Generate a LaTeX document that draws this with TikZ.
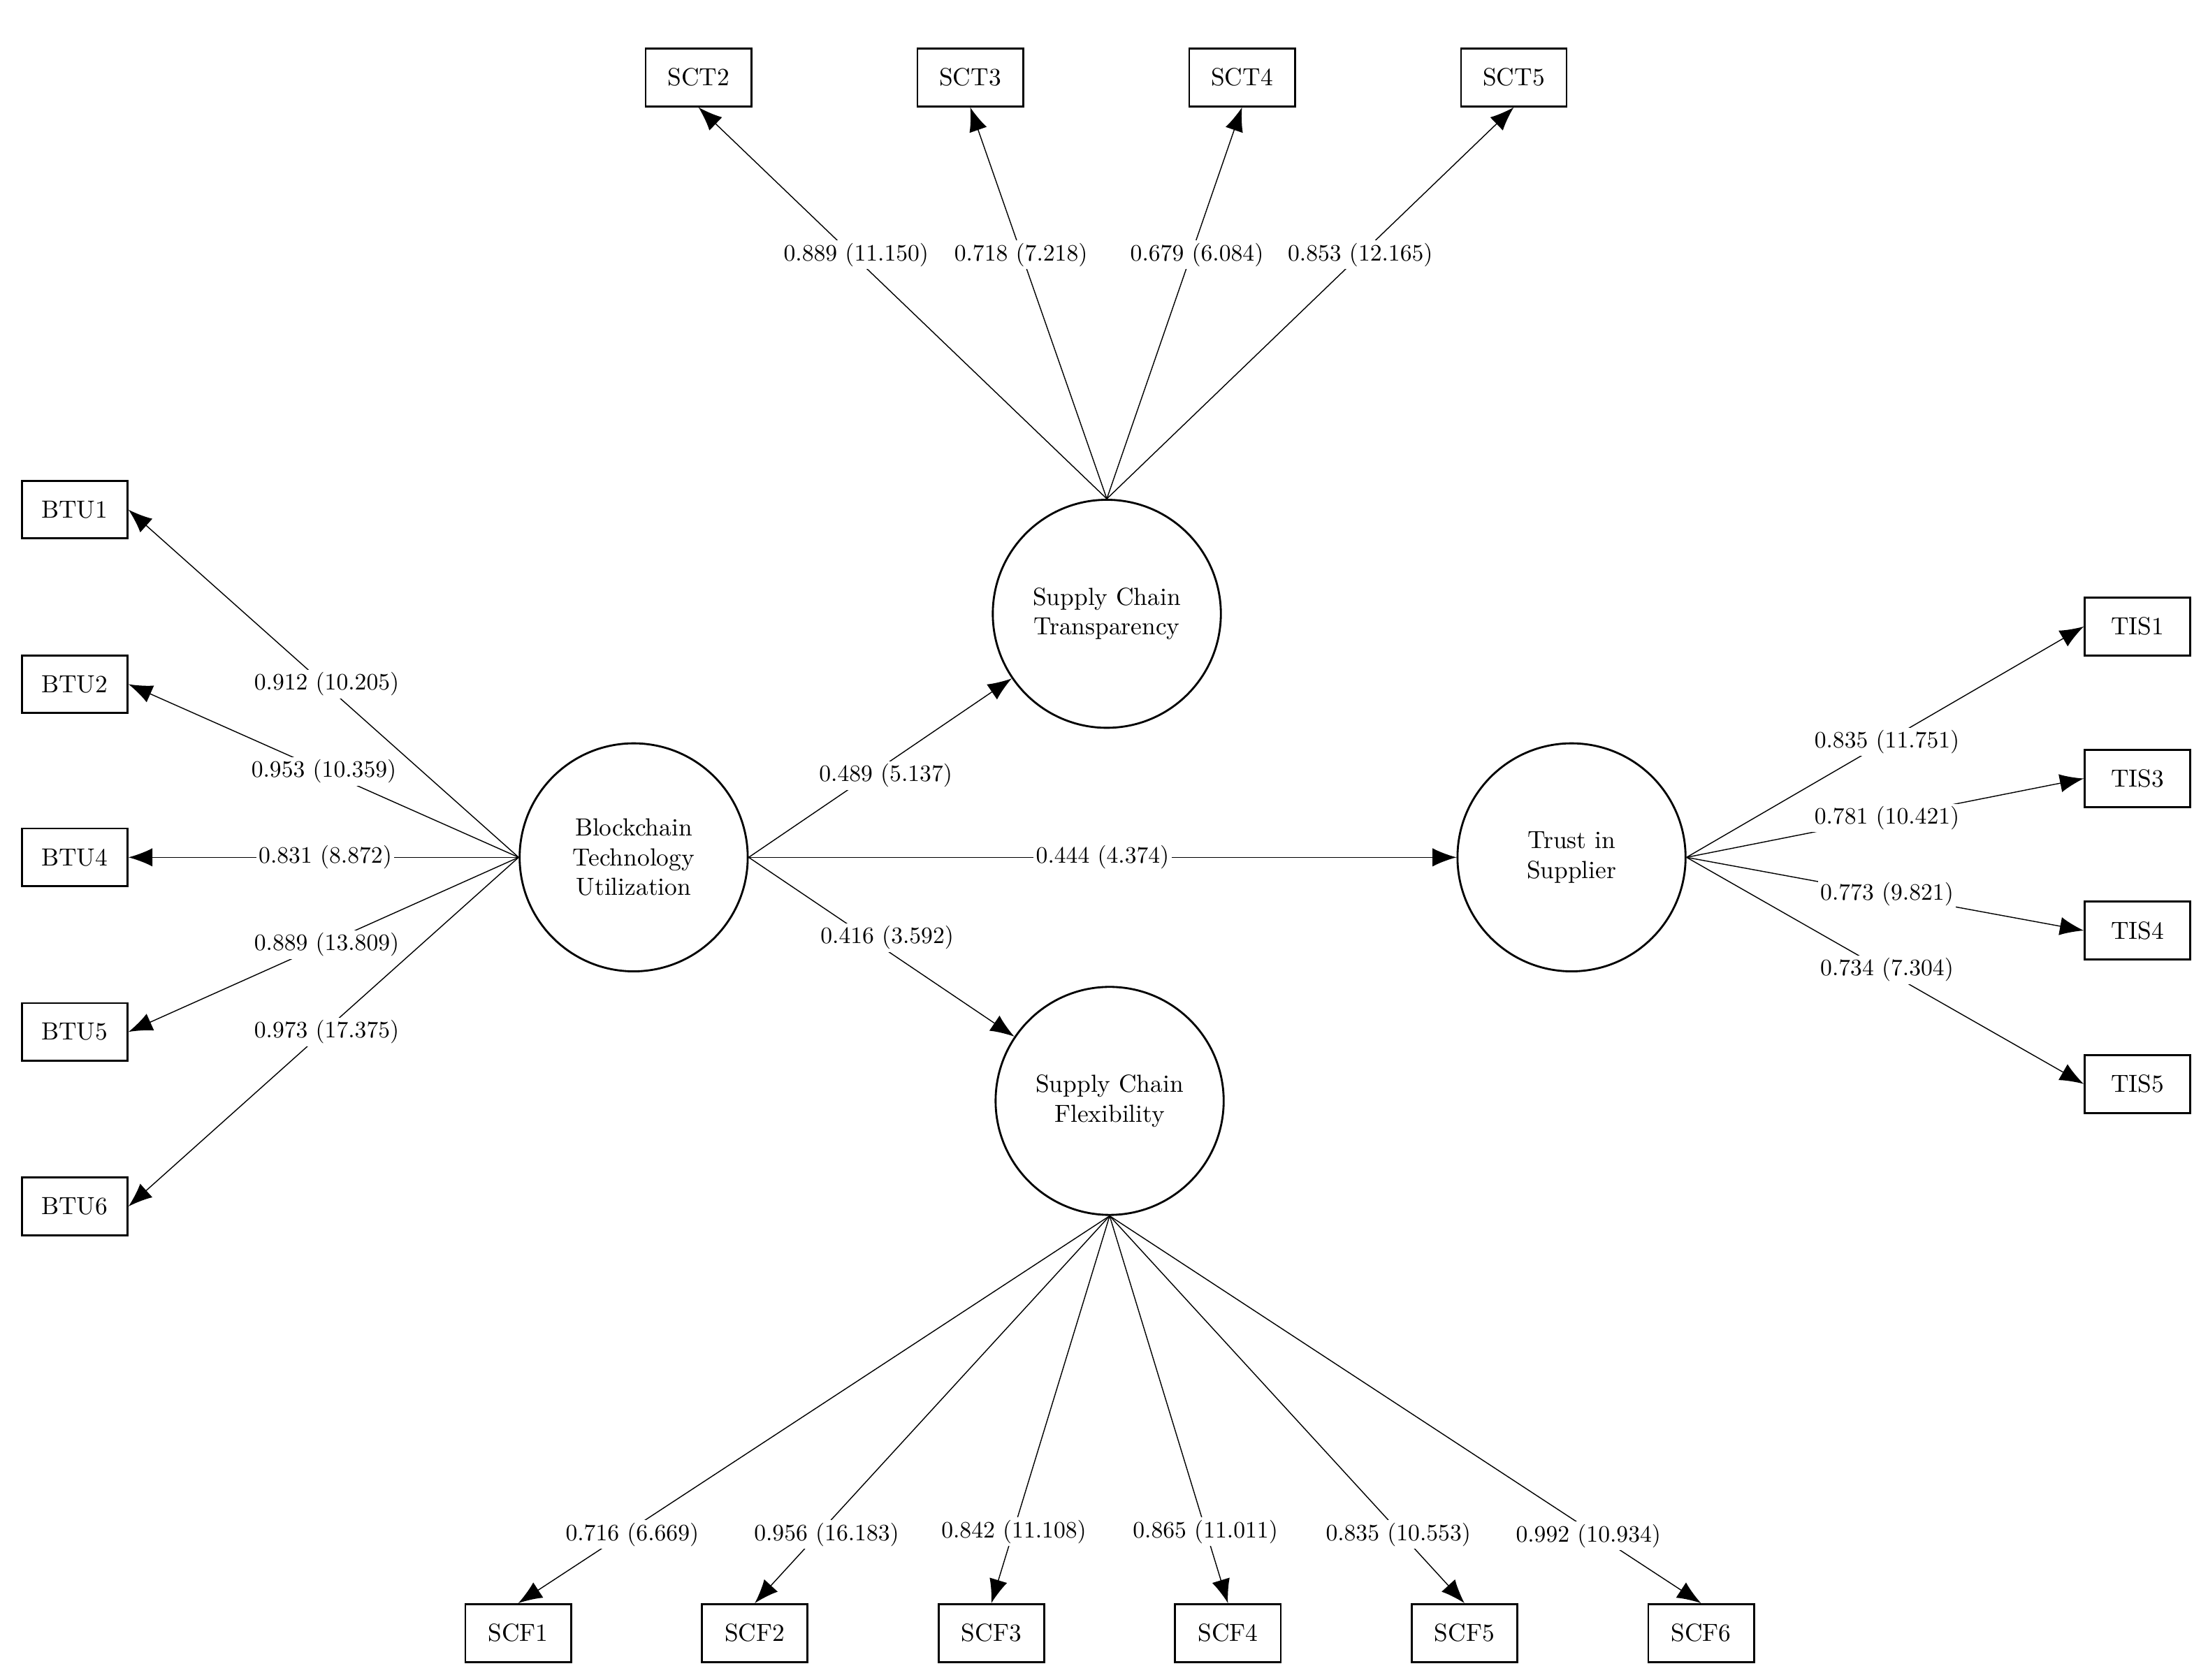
\documentclass[tikz,border=0pt]{standalone}
\usetikzlibrary{arrows.meta}
\begin{document}
\begin{tikzpicture}[x=0.02cm,y=-0.02cm,
 ind/.style={draw,thick,minimum width=1.5cm,minimum height=0.82cm,inner sep=0pt,font=\fontsize{10}{12}\selectfont},
 lat/.style={draw,thick,circle,minimum size=3.24cm,inner sep=0pt,align=center,font=\fontsize{10}{12}\selectfont},
 ar/.style={-{Latex[length=0.34cm,width=0.26cm]},thin},
 lb/.style={fill=white,inner sep=1pt,font=\fontsize{9.5}{11}\selectfont}]
\useasboundingbox (0,0) rectangle (1568,1193);
\node[lat] (btu) at (450,609) {Blockchain\\Technology\\Utilization};
\node[lat] (sct) at (786,436) {Supply Chain\\Transparency};
\node[lat] (tis) at (1116,609) {Trust in\\Supplier};
\node[lat] (scf) at (788,782) {Supply Chain\\Flexibility};
\foreach \n/\x in {2/496,3/689,4/882,5/1075} \node[ind] (sct\n) at (\x,55) {SCT\n};
\foreach \n/\y in {1/362,2/486,4/609,5/733,6/857} \node[ind] (btu\n) at (53,\y) {BTU\n};
\foreach \n/\y in {1/445,3/553,4/661,5/770} \node[ind] (tis\n) at (1518,\y) {TIS\n};
\foreach \n/\x in {1/368,2/536,3/704,4/872,5/1040,6/1208} \node[ind] (scf\n) at (\x,1160) {SCF\n};
% loadings
\foreach \n in {2,3,4,5} \draw[ar] (sct.north) -- (sct\n.south);
\foreach \n in {1,2,4,5,6} \draw[ar] (btu.west) -- (btu\n.east);
\foreach \n in {1,3,4,5} \draw[ar] (tis.east) -- (tis\n.west);
\foreach \n in {1,2,3,4,5,6} \draw[ar] (scf.south) -- (scf\n.north);
\draw[ar] (btu.east) -- (sct);
\draw[ar] (btu.east) -- (tis);
\draw[ar] (btu.east) -- (scf);
% labels
\node[lb] at (608,181) {0.889 (11.150)};
\node[lb] at (725,181) {0.718 (7.218)};
\node[lb] at (850,181) {0.679 (6.084)};
\node[lb] at (966,181) {0.853 (12.165)};
\node[lb] at (232,486) {0.912 (10.205)};
\node[lb] at (230,548) {0.953 (10.359)};
\node[lb] at (231,609) {0.831 (8.872)};
\node[lb] at (232,671) {0.889 (13.809)};
\node[lb] at (232,733) {0.973 (17.375)};
\node[lb] at (1340,527) {0.835 (11.751)};
\node[lb] at (1340,581) {0.781 (10.421)};
\node[lb] at (1340,635) {0.773 (9.821)};
\node[lb] at (1340,689) {0.734 (7.304)};
\node[lb] at (449,1090) {0.716 (6.669)};
\node[lb] at (587,1090) {0.956 (16.183)};
\node[lb] at (720,1088) {0.842 (11.108)};
\node[lb] at (856,1088) {0.865 (11.011)};
\node[lb] at (993,1090) {0.835 (10.553)};
\node[lb] at (1128,1091) {0.992 (10.934)};
\node[lb] at (629,551) {0.489 (5.137)};
\node[lb] at (783,609) {0.444 (4.374)};
\node[lb] at (630,666) {0.416 (3.592)};
\end{tikzpicture}
\end{document}
